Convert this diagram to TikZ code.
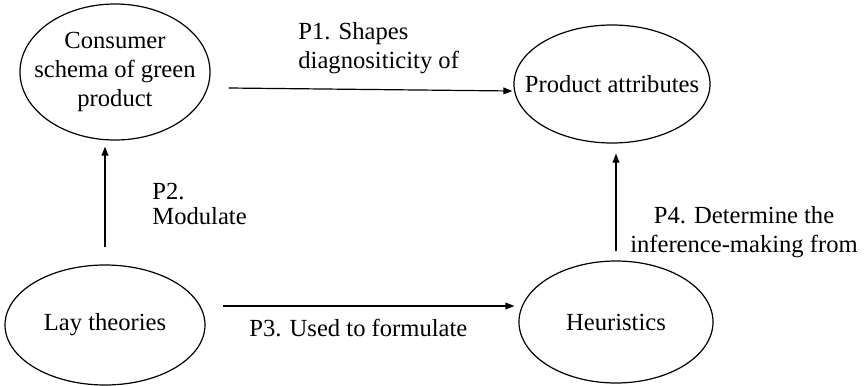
\documentclass[tikz,border=0pt]{standalone}
\usepackage{fontspec}
\setmainfont{Liberation Serif}
\usetikzlibrary{shapes.geometric,arrows.meta}
\tikzset{
	concept/.style={draw, ellipse, line width=0.6pt, inner sep=0pt, align=center},
	link/.style={line width=0.6pt, -{Triangle[length=4.5pt,width=3.4pt]}},
	plabel/.style={align=left, inner sep=0pt}
}
\begin{document}
\begin{tikzpicture}[x=0.5pt, y=-0.5pt, font=\fontsize{12.3}{14.5}\selectfont]
			\useasboundingbox (0,0) rectangle (864,386);
			% constructs
			\node [concept, inner xsep=-6.7pt, minimum width=95pt, minimum height=68pt] (schema) at (115,72) {Consumer\\schema of green\\product};
			\node [concept, inner xsep=-8.9pt, minimum width=98pt, minimum height=59pt] (attr) at (612,84) {Product attributes};
			\node [concept, minimum width=100pt, minimum height=60pt] (lay) at (105,325) {Lay theories};
			\node [concept, minimum width=97pt, minimum height=61pt] (heur) at (616,322) {Heuristics};
			% propositions
			\draw [link] ([xshift=9pt,yshift=-8pt]schema.east) -- ([xshift=-0.5pt,yshift=-3.5pt]attr.west);
			\draw [link, shorten <=8.5pt, shorten >=3pt] (lay.north) -- (lay.north |- schema.south);
			\draw [link] ([xshift=8.5pt,yshift=9.5pt]lay.east) -- ([xshift=-2pt,yshift=8pt]heur.west);
			\draw [link, shorten <=4.5pt, shorten >=5pt] (heur.north) -- (heur.north |- attr.south);
			\node [plabel, anchor=west] (p1) at (298,48) {P1. Shapes\\diagnositicity of};
			\node [plabel, anchor=west, font=\fontsize{12.3}{12.8}\selectfont] (p2) at (152,204) {P2.\\Modulate};
			\node [plabel, anchor=west] (p3) at (249,328) {P3. Used to formulate};
			\node [align=center, inner sep=0pt] (p4) at (744,232) {P4. Determine the\\inference-making from};
		\end{tikzpicture}
\end{document}
